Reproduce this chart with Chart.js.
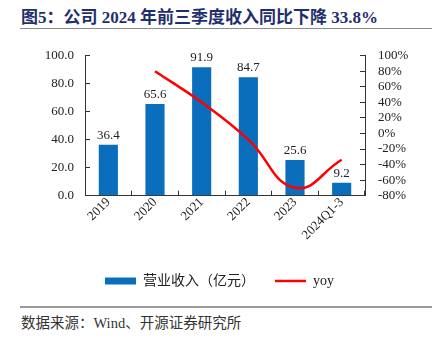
<!DOCTYPE html>
<html>
<head>
<meta charset="utf-8">
<script src="https://cdn.jsdelivr.net/npm/chart.js@4/dist/chart.umd.min.js"></script>
<style>
  body { margin: 0; width: 439px; height: 343px; background: #fff; position: relative; overflow: hidden; }
  #title { position: absolute; left: 21px; top: 3px; font: bold 17px "Liberation Serif", "Noto Sans CJK SC", serif; color: #1f2f6e; white-space: nowrap; }
  #tline { position: absolute; left: 20px; width: 412px; top: 28px; border-top: 1.5px solid #8a8a8a; }
  #wrap { position: absolute; left: 0; top: 30px; width: 439px; height: 272px; }
  #fline { position: absolute; left: 20px; width: 412px; top: 306px; border-top: 2px solid #9a9a9a; }
  #source { position: absolute; left: 21px; top: 311px; font: 14.5px "Liberation Serif", "Noto Sans CJK SC", serif; color: #333; white-space: nowrap; }
</style>
</head>
<body>
<div id="title">图5：公司 2024 年前三季度收入同比下降 33.8%</div>
<div id="tline"></div>
<div id="wrap"><canvas id="main-graph"></canvas></div>
<div id="fline"></div>
<div id="source">数据来源：Wind、开源证券研究所</div>
<script>
const categories = ["2019", "2020", "2021", "2022", "2023", "2024Q1-3"];
const revenue = [36.4, 65.6, 91.9, 84.7, 25.6, 9.2];
const yoy = [null, 80.2, 40.1, -7.8, -69.8, -33.8];
const leftTicks = [0, 20, 40, 60, 80, 100];
const rightTicks = [-80, -60, -40, -20, 0, 20, 40, 60, 80, 100];

const serif = '"Liberation Serif", "Noto Sans CJK SC", serif';

const barLabels = {
  id: "barLabels",
  afterDatasetsDraw(chart) {
    const ctx = chart.ctx;
    const meta = chart.getDatasetMeta(0);
    ctx.save();
    ctx.font = "13px " + serif;
    ctx.fillStyle = "#222";
    ctx.textAlign = "center";
    ctx.textBaseline = "bottom";
    meta.data.forEach((bar, i) => {
      ctx.fillText(revenue[i].toFixed(1), bar.x, bar.y - 3);
    });
    ctx.restore();
  },
};

const ctx4 = document.getElementById("main-graph");

new Chart(ctx4, {
  type: "bar",
  data: {
    labels: categories,
    datasets: [
      {
        label: "营业收入（亿元）",
        data: revenue,
        backgroundColor: "#0a6ebd",
        borderWidth: 0,
        barPercentage: 0.82,
        categoryPercentage: 0.5,
        yAxisID: "y",
        order: 2,
        pointStyle: "rect",
      },
      {
        type: "line",
        label: "yoy",
        data: yoy,
        borderColor: "#ff0000",
        backgroundColor: "#ff0000",
        borderWidth: 2.5,
        pointRadius: 0,
        tension: 0.45,
        yAxisID: "y1",
        order: 1,
        pointStyle: "line",
      },
    ],
  },
  options: {
    responsive: true,
    maintainAspectRatio: false,
    animation: false,
    layout: { padding: { top: 20, left: 0, right: 0, bottom: 4 } },
    scales: {
      x: {
        grid: { drawOnChartArea: false, tickLength: -5, color: "#333", offset: true },
        border: { color: "#333", width: 1 },
        afterFit: (s) => { s.height += 7; },
        ticks: {
          color: "#222",
          font: { family: serif, size: 13 },
          minRotation: 45,
          maxRotation: 45,
          padding: 4,
        },
      },
      y: {
        position: "left",
        min: 0,
        max: 100,
        afterBuildTicks: (s) => { s.ticks = leftTicks.map((v) => ({ value: v })); },
        afterFit: (s) => { s.width = 85; },
        grid: { drawOnChartArea: false, tickLength: -5, color: "#333" },
        border: { color: "#333", width: 1 },
        ticks: {
          color: "#222",
          font: { family: serif, size: 13 },
          padding: 16,
          autoSkip: false,
          callback: (v) => v.toFixed(1),
        },
      },
      y1: {
        position: "right",
        min: -80,
        max: 100,
        afterBuildTicks: (s) => { s.ticks = rightTicks.map((v) => ({ value: v })); },
        afterFit: (s) => { s.width = 74; },
        grid: { drawOnChartArea: false, tickLength: -5, color: "#333" },
        border: { color: "#333", width: 1 },
        ticks: {
          color: "#222",
          font: { family: serif, size: 13 },
          padding: 18,
          autoSkip: false,
          callback: (v) => v + "%",
        },
      },
    },
    plugins: {
      legend: {
        position: "bottom",
        labels: {
          usePointStyle: true,
          pointStyleWidth: 31,
          boxHeight: 7,
          padding: 20,
          color: "#222",
          font: { family: serif, size: 14 },
          sort: (a, b) => a.datasetIndex - b.datasetIndex,
        },
      },
      tooltip: { enabled: false },
    },
  },
  plugins: [barLabels],
});
</script>
</body>
</html>
